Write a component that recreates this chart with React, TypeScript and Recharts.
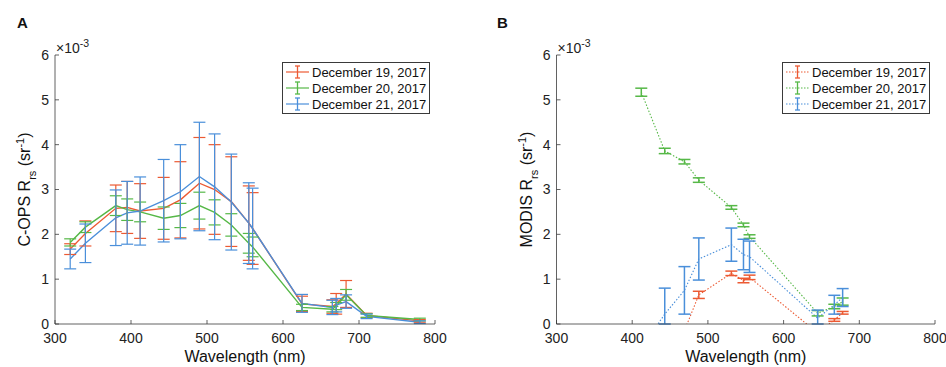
import React from 'react';
import { LineChart, Line, XAxis, YAxis, ErrorBar, Legend } from 'recharts';

// ---------- data ----------
const seriesNames = ['December 19, 2017', 'December 20, 2017', 'December 21, 2017'];
const xTicks = [300, 400, 500, 600, 700, 800];
const yTicks = [0, 1, 2, 3, 4, 5, 6];

const copsWavelengths = [320, 340, 380, 395, 412, 443, 465, 490, 510, 532, 555, 560, 625, 665, 670, 683, 710, 780];
const copsDec19 = [1.67, 2.02, 2.58, 2.6, 2.52, 2.58, 2.77, 3.14, 3.0, 2.73, 2.25, 2.13, 0.45, 0.39, 0.45, 0.67, 0.19, 0.07];
const copsDec19Err = [0.12, 0.28, 0.52, 0.58, 0.61, 0.69, 0.85, 1.02, 1.0, 1.0, 0.83, 0.8, 0.17, 0.15, 0.23, 0.3, 0.05, 0.03];
const copsDec20 = [1.82, 2.16, 2.64, 2.55, 2.5, 2.36, 2.42, 2.64, 2.49, 2.21, 1.8, 1.72, 0.37, 0.33, 0.4, 0.65, 0.19, 0.1];
const copsDec20Err = [0.08, 0.12, 0.22, 0.24, 0.22, 0.25, 0.27, 0.3, 0.28, 0.25, 0.22, 0.22, 0.07, 0.06, 0.08, 0.12, 0.04, 0.03];
const copsDec21 = [1.45, 1.8, 2.37, 2.48, 2.52, 2.75, 2.95, 3.29, 3.06, 2.72, 2.25, 2.13, 0.46, 0.37, 0.42, 0.5, 0.17, 0.04];
const copsDec21Err = [0.22, 0.43, 0.62, 0.7, 0.76, 0.92, 1.05, 1.21, 1.18, 1.07, 0.9, 0.9, 0.2, 0.16, 0.15, 0.15, 0.05, 0.03];

const modisWavelengths = [412, 443, 469, 488, 531, 547, 555, 645, 667, 678];
const modisDec19 = [-0.55, -0.35, -0.15, 0.65, 1.13, 0.97, 1.04, -0.2, 0.09, 0.25];
const modisDec19Err = [0.08, 0.08, 0.06, 0.08, 0.05, 0.05, 0.05, 0.05, 0.03, 0.03];
const modisDec20 = [5.17, 3.86, 3.62, 3.21, 2.6, 2.21, 1.95, 0.24, 0.39, 0.5];
const modisDec20Err = [0.09, 0.06, 0.05, 0.05, 0.04, 0.04, 0.04, 0.06, 0.05, 0.08];
const modisDec21 = [-0.54, 0.22, 0.75, 1.45, 1.77, 1.55, 1.5, 0.13, 0.43, 0.59];
const modisDec21Err = [0.3, 0.58, 0.53, 0.47, 0.37, 0.34, 0.35, 0.18, 0.21, 0.2];

const Y_MIN = 0;
const KEYS = ['d19', 'd20', 'd21'];

// error bars are clipped to the visible y range (like the axes clipping in the original)
const clippedBar = (v: number, e: number) => {
  const hi = v + e;
  if (hi <= Y_MIN) return { mid: null, half: null };
  const lo = Math.max(v - e, Y_MIN);
  return { mid: (lo + hi) / 2, half: (hi - lo) / 2 };
};

const buildTable = (wls: number[], series: number[][], errs: number[][]) =>
  wls.map((wl, i) => {
    const row: any = { wl };
    KEYS.forEach((k, s) => {
      row[k] = series[s][i];
      const b = clippedBar(series[s][i], errs[s][i]);
      row[`${k}m`] = b.mid;
      row[`${k}h`] = b.half;
    });
    return row;
  });

const copsData = buildTable(copsWavelengths, [copsDec19, copsDec20, copsDec21], [copsDec19Err, copsDec20Err, copsDec21Err]);
const modisData = buildTable(modisWavelengths, [modisDec19, modisDec20, modisDec21], [modisDec19Err, modisDec20Err, modisDec21Err]);

// ---------- styles ----------
const COLORS = ['#EC5A33', '#56B847', '#4A8FDA'];
const AXIS = '#3a3a3a';
const FONT = '"Liberation Sans", Arial, Helvetica, sans-serif';
const TICK_LEN = 4;
const X_TICK_GAP = 9;
const Y_TICK_GAP = 6;

const BottomTick = (props: any) => {
  const { x, y, payload } = props;
  return (
    <g>
      <line x1={x} x2={x} y1={y - X_TICK_GAP} y2={y - X_TICK_GAP - TICK_LEN} stroke={AXIS} strokeWidth={0.8} />
      <text x={x} y={y} dy="0.71em" textAnchor="middle" fontSize={14} fill="#222" fontFamily={FONT}>
        {payload.value}
      </text>
    </g>
  );
};
const TopTick = (props: any) => {
  const { x, y } = props;
  return <line x1={x} x2={x} y1={y} y2={y + TICK_LEN} stroke={AXIS} strokeWidth={0.8} />;
};
const LeftTick = (props: any) => {
  const { x, y, payload } = props;
  return (
    <g>
      <line x1={x + Y_TICK_GAP} x2={x + Y_TICK_GAP + TICK_LEN} y1={y} y2={y} stroke={AXIS} strokeWidth={0.8} />
      <text x={x} y={y} dy="0.355em" textAnchor="end" fontSize={14} fill="#222" fontFamily={FONT}>
        {payload.value}
      </text>
    </g>
  );
};
const RightTick = (props: any) => {
  const { x, y } = props;
  return <line x1={x} x2={x - TICK_LEN} y1={y} y2={y} stroke={AXIS} strokeWidth={0.8} />;
};

const LegendBox = ({ dotted }: { dotted: boolean }) => (
  <div
    style={{
      border: `1px solid ${AXIS}`,
      background: '#fff',
      padding: '1px 3px 1px 2px',
      fontFamily: FONT,
      fontSize: 13,
      color: '#111',
      whiteSpace: 'nowrap',
    }}
  >
    {seriesNames.map((n, i) => (
      <div key={n} style={{ display: 'flex', alignItems: 'center', height: 16 }}>
        <svg width={25} height={16} style={{ display: 'block' }}>
          <line x1={1} x2={24} y1={8} y2={8} stroke={COLORS[i]} strokeWidth={1.2}
            strokeDasharray={dotted ? '1.5 1.5' : undefined} />
          <line x1={12.5} x2={12.5} y1={2} y2={14} stroke={COLORS[i]} strokeWidth={1.3} />
          <line x1={10} x2={15} y1={2} y2={2} stroke={COLORS[i]} strokeWidth={1.3} />
          <line x1={10} x2={15} y1={14} y2={14} stroke={COLORS[i]} strokeWidth={1.3} />
        </svg>
        <span style={{ marginLeft: 2 }}>{n}</span>
      </div>
    ))}
  </div>
);

type PanelProps = {
  data: any[];
  left: number;
  margin: { top: number; right: number; bottom: number; left: number };
  dotted: boolean;
  legendLeft: number;
};

const Panel = ({ data, left, margin, dotted, legendLeft }: PanelProps) => (
  <div style={{ position: 'absolute', left, top: 0 }}>
    <LineChart width={473} height={367} data={data} margin={margin}>
      <XAxis dataKey="wl" type="number" domain={[300, 800]} ticks={xTicks} allowDataOverflow
        height={43} tickSize={0} tickMargin={X_TICK_GAP} tickLine={false} interval={0}
        axisLine={{ stroke: AXIS, strokeWidth: 0.8 }} tick={<BottomTick />} />
      <XAxis xAxisId="top" orientation="top" dataKey="wl" type="number" domain={[300, 800]} ticks={xTicks}
        allowDataOverflow height={0} tickSize={0} tickMargin={0} tickLine={false} interval={0}
        axisLine={{ stroke: AXIS, strokeWidth: 0.8 }} tick={<TopTick />} />
      <YAxis type="number" domain={[0, 6]} ticks={yTicks} allowDataOverflow width={40}
        tickSize={0} tickMargin={Y_TICK_GAP} tickLine={false} interval={0}
        axisLine={{ stroke: AXIS, strokeWidth: 0.8 }} tick={<LeftTick />} />
      <YAxis yAxisId="right" orientation="right" type="number" domain={[0, 6]} ticks={yTicks} allowDataOverflow
        width={0} tickSize={0} tickMargin={0} tickLine={false} interval={0}
        axisLine={{ stroke: AXIS, strokeWidth: 0.8 }} tick={<RightTick />} />
      {KEYS.map((k, i) => (
        <Line key={k} type="linear" dataKey={k} name={seriesNames[i]} stroke={COLORS[i]}
          strokeWidth={dotted ? 1.1 : 1.4} strokeDasharray={dotted ? '1.5 1.8' : undefined}
          dot={false} isAnimationActive={false} />
      ))}
      {KEYS.map((k, i) => (
        <Line key={`${k}-bars`} type="linear" dataKey={`${k}m`} stroke="none" legendType="none"
          dot={false} activeDot={false} isAnimationActive={false}>
          <ErrorBar dataKey={`${k}h`} width={6} stroke={COLORS[i]} strokeWidth={dotted ? 1.5 : 1.2} direction="y" />
        </Line>
      ))}
      <Legend layout="vertical" align="center" verticalAlign="middle"
        wrapperStyle={{ top: 62, left: legendLeft, width: 'auto' }}
        content={() => <LegendBox dotted={dotted} />} />
    </LineChart>
  </div>
);

const AxisTexts = ({ plotLeft, plotRight, letter, letterX, ylabelX, yPrefix }: any) => {
  const cx = (plotLeft + plotRight) / 2;
  const cy = (55 + 324) / 2;
  return (
    <g fontFamily={FONT} fill="#111">
      <text x={letterX} y={28} fontSize={15} fontWeight="bold">{letter}</text>
      <text x={plotLeft + 1} y={53} fontSize={14} fill="#222">
        ×10<tspan dy={-6} fontSize={10.5}>-3</tspan>
      </text>
      <text x={cx} y={362} fontSize={16} textAnchor="middle">Wavelength (nm)</text>
      <text x={ylabelX} y={cy} fontSize={16} textAnchor="middle" transform={`rotate(-90 ${ylabelX} ${cy})`}>
        {yPrefix} R<tspan baselineShift="sub" fontSize={11}>rs</tspan>
        <tspan> (sr</tspan><tspan baselineShift="super" fontSize={11}>-1</tspan><tspan>)</tspan>
      </text>
    </g>
  );
};

export default function App() {
  return (
    <div style={{ position: 'absolute', left: 0, top: 0, width: 946, height: 367, background: '#fff', overflow: 'hidden' }}>
      <Panel data={copsData} left={0} margin={{ top: 55, right: 38, bottom: 0, left: 15 }} dotted={false} legendLeft={282} />
      <Panel data={modisData} left={473} margin={{ top: 55, right: 11, bottom: 0, left: 43.5 }} dotted={true} legendLeft={309} />
      <svg width={946} height={367} style={{ position: 'absolute', left: 0, top: 0, pointerEvents: 'none' }}>
        <AxisTexts plotLeft={55} plotRight={435} letter="A" letterX={17} ylabelX={30} yPrefix="C-OPS" />
        <AxisTexts plotLeft={556.5} plotRight={935} letter="B" letterX={497} ylabelX={531.5} yPrefix="MODIS" />
      </svg>
    </div>
  );
}
